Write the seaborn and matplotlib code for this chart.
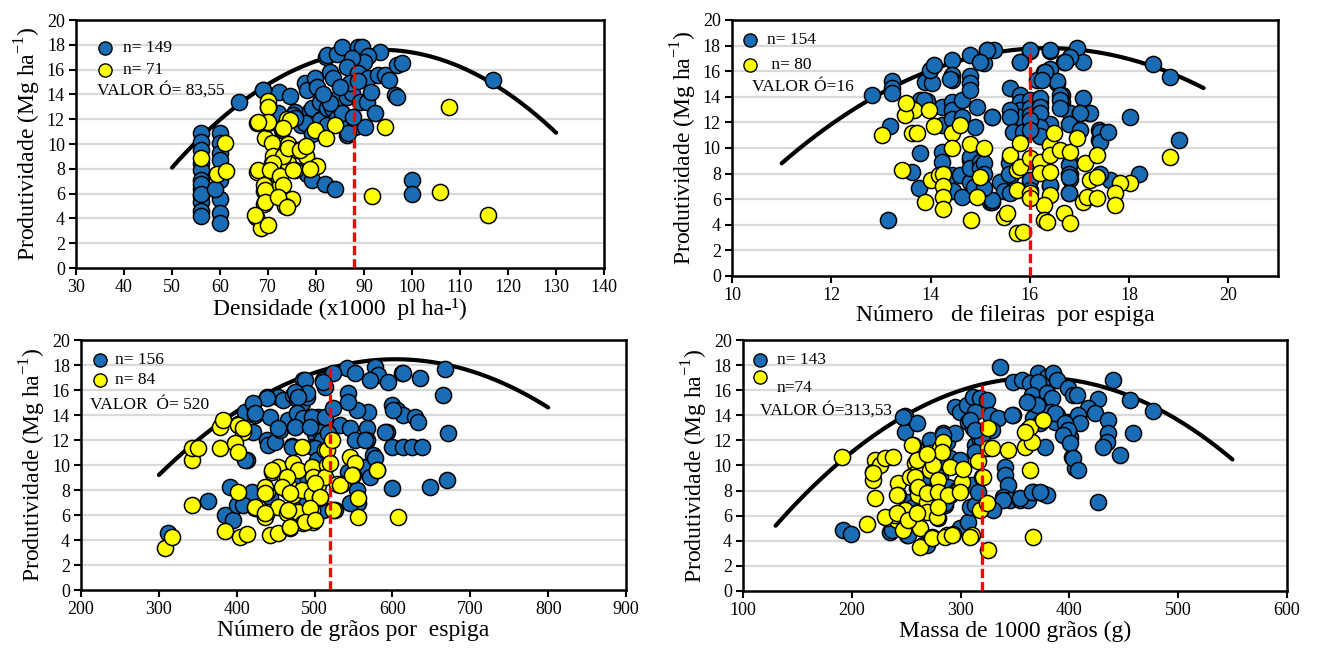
import numpy as np
import pandas as pd
import matplotlib
matplotlib.use("Agg")
import matplotlib.pyplot as plt
import seaborn as sns

# ---------------------------------------------------------------- data
# Densidade (x1000 pl/ha)
dens_blue_x = [56]*13 + [60, 60, 60, 60, 60, 60, 60, 60, 59,
    64, 67.6, 68.9, 72.2, 74.6, 72.1, 75.6, 75.2, 72.9, 76.9, 77.7, 78.1, 79.8, 80.1,
    78.75, 79.1, 80.8, 81.1, 80.8, 82.2, 83.3, 84.6, 86.4, 87.4, 89.2, 90.6, 92.3, 77.7,
    82.2, 84.3, 86.4, 86.4, 88.1, 90.2, 79.1, 86.7, 77.4, 78.1, 79.1, 81.9, 84.0, 99.9,
    99.9, 82.0, 82.2, 84.3, 85.4, 88.8, 89.5, 93.3, 90.9, 89.9, 87.4, 86.4, 82.9, 83.6,
    88.8, 90.9, 93.0, 94.4, 95.1, 96.8, 97.9, 96.5, 96.8, 87.1, 88.8, 116.8, 75.6, 69.0,
    85.5, 83.0, 85.0, 91.5, 87.8, 81.5]
dens_blue_y = [10.9, 10.2, 9.5, 8.5, 7.9, 7.1, 6.4, 5.8, 5.3, 4.6, 4.2, 6.8, 6.0,
    10.9, 10.1, 9.3, 8.7, 7.1, 5.6, 4.4, 3.6, 6.4,
    13.4, 11.7, 14.35, 14.2, 13.9, 12.5, 12.6, 12.3, 11.1, 11.5, 14.9, 14.35, 15.3, 14.6,
    12.7, 12.9, 13.4, 12.05, 11.9, 12.9, 12.9, 13.7, 13.8, 14.1, 13.4, 13.4, 12.5, 11.67,
    11.5, 12.07, 11.4, 10.7, 11.4, 11.4, 10.8, 10.86, 7.9, 7.6, 7.1, 6.8, 6.4, 7.1,
    6.0, 17.05, 17.2, 17.3, 17.8, 17.85, 17.8, 17.4, 17.1, 16.6, 16.9, 16.2, 15.8, 15.3,
    15.7, 15.3, 15.56, 15.6, 15.2, 16.4, 16.5, 13.95, 13.8, 14.9, 15.1, 15.16, 12.07, 14.35,
    12.5, 13.3, 14.6, 14.2, 12.2, 14.0]
dens_yell_x = [56, 59.3, 61.1, 61.3, 67.6, 67.5, 68.5, 69.9, 69.1, 69.2, 69.1, 69.4, 69.9,
    69.9, 69.9, 70.9, 70.9, 72.3, 72.5, 73.0, 74.0, 74.2, 74.2, 73.6, 74.9, 73.6, 75.6,
    76.0, 79.8, 79.8, 94.4, 91.6, 105.8, 107.8, 115.8, 84.0, 82.1, 77.4, 78.0, 74.6, 73.2,
    70.0, 70.0, 68.0, 71.1, 73.2, 71.1, 68.0, 70.4, 80.1, 78.8, 72.5, 75.3, 73.2, 69.4,
    69.4, 72.1, 74.2, 76.7, 78.0, 73.9, 67.3]
dens_yell_y = [8.9, 7.6, 10.05, 7.85, 7.76, 4.14, 3.2, 3.5, 5.2, 6.2, 6.7, 10.45, 11.66,
    13.0, 13.5, 10.05, 8.44, 7.23, 6.7, 11.3, 12.0, 10.0, 8.5, 5.6, 5.6, 5.0, 7.9,
    9.5, 11.1, 8.2, 11.35, 5.8, 6.15, 13.0, 4.27, 11.5, 10.5, 9.65, 9.0, 11.9, 11.3,
    13.0, 11.8, 11.8, 9.0, 9.0, 8.44, 7.9, 7.9, 8.2, 8.0, 7.4, 7.9, 6.7, 6.3,
    5.35, 5.75, 9.65, 9.5, 9.8, 4.95, 4.27]

# Numero de fileiras por espiga
fil_blue_x = [12.82, 13.15, 13.19, 13.22, 13.22, 13.22, 13.62, 13.76, 13.79, 13.79, 13.89,
    13.93, 14.03, 13.99, 14.06, 14.23, 14.23, 14.23, 14.23, 14.43, 14.43, 14.43, 14.43,
    14.43, 14.43, 14.43, 14.63, 14.63, 14.6, 14.46, 14.63, 14.8, 14.8, 14.8, 14.8, 14.9,
    14.8, 14.8, 15.0, 15.03, 14.93, 15.07, 15.13, 15.27, 15.2, 15.8, 16.0, 16.4, 16.95,
    16.68, 17.08, 16.8, 16.28, 16.4, 16.14, 16.55, 15.6, 15.8, 15.8, 15.8, 15.8, 16.0,
    16.0, 16.0, 16.0, 16.2, 16.2, 16.2, 16.2, 16.65, 16.65, 16.65, 16.8, 16.8, 17.08,
    17.2, 17.0, 17.4, 17.4, 16.8, 16.8, 16.8, 16.4, 16.78, 15.6, 15.67, 15.6, 15.54,
    15.4, 15.24, 14.87, 14.8, 14.8, 15.0, 15.0, 15.24, 14.4, 13.86,
    18.49, 18.82, 19.0, 18.02, 18.19, 17.62, 17.42, 17.42, 17.42, 17.58, 17.22, 17.02,
    16.7, 16.55, 16.61, 16.61, 16.61, 16.78, 16.78, 16.78, 16.78, 16.78, 17.02, 16.41,
    16.41, 16.21, 16.21, 16.21, 16.21, 16.21, 16.31, 16.24, 16.41, 16.01, 15.81, 15.14,
    15.0, 15.6, 15.6, 15.67, 15.24, 15.87, 16.0, 16.0, 16.0, 16.0, 16.0, 15.57, 15.57,
    15.47, 15.6, 15.24, 15.07, 15.07, 15.07]
fil_blue_y = [14.1, 4.37, 11.7, 15.2, 14.7, 14.3, 8.15, 6.85, 9.6, 13.75, 15.18,
    13.7, 15.05, 16.1, 16.5, 13.2, 11.8, 9.7, 8.9, 16.9, 15.7, 15.3, 13.6,
    13.0, 12.3, 7.9, 13.75, 12.4, 7.9, 6.65, 6.2, 17.27, 15.6, 15.05, 14.5, 11.66,
    9.06, 7.37, 7.0, 8.8, 13.2, 16.6, 17.66, 17.66, 5.8, 16.75, 17.6, 17.6, 17.8,
    16.75, 16.75, 17.1, 15.96, 16.2, 15.3, 15.05, 14.67, 14.1, 13.6, 13.0, 12.45, 13.75,
    13.1, 12.6, 11.9, 13.6, 12.7, 11.7, 10.9, 14.1, 13.6, 13.1, 12.7, 11.9, 13.9,
    12.7, 12.7, 11.4, 10.6, 8.8, 8.0, 7.6, 7.0, 6.45, 9.2, 8.54, 7.76, 6.7,
    7.37, 5.8, 6.98, 9.3, 8.4, 8.9, 8.4, 12.4, 15.4, 13.75,
    16.56, 15.52, 10.6, 12.45, 8.0, 7.5, 8.0, 11.27, 10.5, 11.27, 12.7, 12.7,
    16.75, 15.2, 14.1, 13.75, 13.1, 11.9, 8.7, 8.0, 7.76, 6.46, 11.4, 11.9,
    7.1, 13.9, 13.2, 12.7, 11.66, 10.9, 15.96, 15.3, 17.66, 17.66, 16.75, 17.66,
    16.75, 13.0, 12.45, 11.27, 12.45, 11.27, 12.2, 11.4, 9.0, 7.5, 6.7, 8.8, 8.0,
    6.6, 6.45, 5.94, 8.8, 8.0, 6.9]
fil_yell_x = [13.52, 13.66, 13.49, 13.02, 13.62, 13.72, 13.42, 13.96, 14.06, 14.43, 14.6,
    14.43, 14.8, 15.07, 14.01, 14.16, 14.26, 14.26, 14.26, 14.26, 13.89, 14.81, 14.93,
    15.0, 15.6, 15.81, 15.74, 15.81, 15.74, 15.47, 15.54, 15.74, 15.87, 16.0, 16.0, 16.21,
    16.21, 16.41, 16.41, 16.41, 16.41, 16.48, 16.28, 16.28, 16.35, 16.68, 16.81, 16.61,
    16.81, 16.95, 17.12, 17.22, 17.35, 17.08, 17.15, 17.35, 17.35, 18.82, 18.02, 17.82,
    17.72, 17.72, 13.5, 16.0]
fil_yell_y = [13.36, 12.97, 12.6, 11.0, 11.2, 11.2, 8.3, 13.0, 11.7, 11.15, 11.8,
    10.0, 10.3, 10.0, 7.5, 7.9, 8.0, 7.0, 6.2, 5.2, 5.8, 4.37, 6.2,
    7.76, 9.45, 10.36, 8.28, 8.54, 6.72, 4.63, 4.9, 3.33, 3.46, 6.46, 9.2, 8.93,
    8.02, 10.23, 9.45, 8.15, 6.33, 11.15, 5.55, 4.37, 4.24, 4.9, 4.1, 9.84,
    9.71, 10.76, 8.8, 7.5, 7.76, 5.8, 6.2, 6.07, 9.45, 9.32, 7.3, 7.3,
    6.46, 5.55, 13.5, 6.1]

# Numero de graos por espiga
gra_blue_x = [312.1, 363.5, 385, 395.6, 400, 391.4, 412.8, 402, 410.6, 421.3, 423.5, 421.3,
    419.2, 438.5, 442.7, 438.5, 440.6, 449, 453.4, 459.8, 455.6, 466.3, 474.9, 470.6,
    472.7, 477, 485.5, 483.5, 489.9, 487.7, 494.1, 496.3, 500.5, 498.4, 442.7, 464.2,
    479.1, 472.7, 500.5, 509.1, 511.2, 513.4, 504.8, 507, 509.1,
    541.2, 551.9, 577.6, 581.8, 571.2, 594.7, 611.9, 635.4, 667.5, 665.3, 671.8, 599,
    605.5, 614, 629, 633.3, 592.6, 599, 614, 624.7, 637.6, 599, 648.3, 669.7, 567, 567,
    569, 554, 543.3, 543.3, 524, 511.2, 487.7, 489.9, 474.9, 479.1, 438.5, 421.3, 423.5,
    477, 485.5, 496.3, 513.4, 524.1, 453.4, 474.9, 494.1, 532.7, 545.5, 551.9, 564.8,
    470.6, 500.5, 517.6, 410.6, 408.5, 502.7, 509.1, 543.3, 562.6, 575.4, 577.6, 571.2,
    579.8, 468.4, 479.1, 492, 496.3, 554, 556.2, 545.5, 479.1, 511.2, 526.2, 472.7,
    614, 590.4, 601]
gra_blue_y = [4.53, 7.12, 6.0, 5.6, 6.8, 8.27, 10.4, 13.3, 14.27, 14.9, 14.0, 12.67,
    7.87, 15.47, 13.87, 12.0, 11.6, 11.87, 15.47, 15.2, 12.8, 13.6, 13.07, 11.5,
    15.6, 15.3, 16.8, 14.93, 15.47, 13.47, 13.87, 13.07, 12.5, 11.47, 7.47, 8.0,
    8.0, 9.73, 9.07, 6.4, 16.8, 16.27, 13.87, 12.67, 12.0,
    17.73, 17.33, 17.87, 17.2, 16.8, 16.67, 17.33, 16.93, 17.65, 15.6, 12.53, 14.8,
    14.4, 14.0, 13.87, 13.47, 12.67, 11.47, 11.47, 11.47, 11.47, 8.13, 8.27, 8.8, 12.93, 12.0,
    14.27, 14.4, 15.73, 15.07, 17.33, 16.67, 16.8, 15.73, 15.87, 15.47, 15.33, 14.93, 14.13,
    14.13, 13.73, 13.87, 13.87, 14.53, 12.93, 13.07, 13.07, 13.2, 12.93, 12.0, 12.0,
    11.47, 11.33, 12.53, 10.4, 6.8, 10.4, 9.6, 9.47, 9.87, 10.8, 10.53, 9.07,
    9.6, 9.33, 8.8, 8.8, 8.13, 8.0, 6.93, 6.93, 7.07, 6.4, 6.4, 6.53,
    17.33, 12.67, 14.4]
gra_yell_x = [307.9, 316.5, 342.2, 342.2, 342.2, 350.7, 378.5, 382, 378.5, 385, 404.2, 412.8,
    402, 408.5, 397.8, 402, 402, 423.5, 436.3, 438.5, 438.5, 442.7, 453.4, 444.9, 453.4,
    453.4, 462, 468.4, 464.2, 468.4, 472.7, 479.1, 472.7, 483.5, 479.1, 485.5, 496.3,
    483.5, 496.3, 498.4, 496.3, 496.3, 504.8, 507, 513.4, 515.6, 513.4, 498.4, 408.5,
    515.6, 522, 519.8, 545.5, 551.9, 549.7, 579.8, 534.8, 528.4, 556.2, 556.2, 524,
    607.5, 464.2, 444.9, 436.3, 436.3, 457.7, 468.4, 500.5, 507, 423.5, 436.3, 466.2,
    494.1, 468.4, 487.7, 500.5, 532.7, 547.7]
gra_yell_y = [3.33, 4.27, 6.8, 10.4, 11.33, 11.33, 13.07, 13.6, 11.33, 4.72, 4.27, 4.45,
    13.2, 12.67, 11.73, 11.07, 7.87, 6.53, 5.87, 6.27, 7.87, 4.4, 4.53, 9.47, 9.87,
    6.67, 8.93, 8.13, 6.13, 4.93, 10.13, 9.6, 7.6, 8.0, 6.27, 5.33, 5.6,
    11.47, 9.87, 9.07, 7.6, 6.4, 8.4, 7.33, 11.2, 10.0, 9.07, 5.47, 12.93,
    11.2, 12.0, 10.13, 10.67, 10.13, 9.2, 9.6, 8.48, 8.5, 7.33, 5.87, 6.4,
    5.87, 9.07, 9.6, 8.27, 7.73, 8.27, 7.73, 8.53, 7.47, 6.67, 6.13, 6.4,
    6.53, 5.07, 5.47, 5.6, 8.4, 9.2]

# Massa de 1000 graos (g)
mas_blue_x = [192.2, 199, 235.1, 250.4, 248.9, 248.9, 259.7, 251.9, 265.7, 271.9, 284.1,
    287.2, 294.9, 294.9, 299.4, 305.6, 311.7, 307.1, 311.7, 313.2, 317.8, 290.3, 299.4,
    290.3, 285.7, 299.4, 307.1, 308.6, 313.2, 310.2, 316.3, 317.8, 265.7, 278, 276.5,
    336.2, 348.4, 356.2, 371.4, 379.1, 385.2, 388.3, 363.8, 371.4, 365.3, 379.1, 383.7,
    362.2, 371.4, 399, 403.6, 382.2, 388.3, 386.8, 366.8, 373, 397.5, 395.9, 400.6,
    402.1, 405.1, 377.6, 348.4, 340.8, 340.8, 343.8, 339.3, 345.4, 354.6, 362.2, 366.8,
    374.5, 379.1, 330, 322.4, 324, 327, 334.6, 328.6, 319.4, 313.2, 247.3, 271.9, 284.1,
    278, 281.1, 279.5, 288.7, 296.4, 285.7, 256.5, 236.7, 251.9, 279.5, 268.8, 313.2,
    308.6, 313.2, 440.4, 406.7, 426.6, 455.7, 476.6, 417.4, 423.5, 435.8, 435.8, 434.3,
    431.2, 458.7, 446.5, 408.2, 409.7, 386.8, 396, 399, 394.4, 400.5, 403.6, 408.2,
    426.6, 369.9, 360.7, 347, 339.3, 354.6, 365.3, 373, 330]
mas_blue_y = [4.86, 4.52, 4.73, 4.46, 13.97, 12.7, 13.36, 7.12, 3.67, 11.9, 12.57,
    11.9, 12.57, 14.68, 14.29, 14.82, 15.48, 13.49, 12.96, 11.63, 12.03, 10.57, 10.44,
    7.91, 6.85, 5.0, 5.52, 6.72, 6.85, 8.45, 7.91, 15.35, 8.71, 10.04, 6.32,
    17.87, 16.68, 16.81, 17.35, 17.08, 17.35, 16.81, 16.55, 16.68, 15.62, 15.75, 15.35,
    15.08, 14.82, 16.15, 15.62, 14.29, 14.02, 13.49, 13.76, 13.36, 13.49, 12.7, 12.3,
    10.7, 9.78, 11.5, 14.02, 9.9, 9.24, 8.45, 7.51, 7.25, 7.25, 7.25, 7.91,
    7.78, 7.65, 6.59, 6.72, 15.22, 14.02, 13.76, 12.83, 12.03, 11.1, 13.89, 12.03, 12.43,
    10.3, 9.1, 8.58, 8.31, 8.05, 6.99, 6.72, 4.86, 4.46, 5.79, 3.67, 14.29,
    13.63, 12.83, 16.81, 15.62, 15.3, 15.22, 14.34, 14.56, 14.16, 13.63, 12.57, 11.9,
    11.5, 12.57, 10.84, 14.02, 13.36, 14.16, 13.36, 12.83, 12.43, 11.77, 10.57, 9.64,
    7.12, 14.82, 15.08, 14.02, 7.25, 7.38, 7.91, 7.91, 6.45]
mas_yell_x = [190.7, 213.7, 221.3, 219.8, 219.8, 225.9, 221.3, 230.5, 232.1, 241.3, 239.7,
    242.7, 242.7, 247.3, 251.9, 248.9, 256.5, 256.5, 258.1, 259.7, 259.7, 261.2, 261.2,
    262.7, 262.7, 271.9, 271.9, 268.8, 268.8, 268.8, 274.9, 278, 273.4, 281.1, 284.1,
    279.5, 279.5, 287.2, 293.3, 290.3, 290.3, 299.4, 301, 302.5, 310.2, 316.3, 317.8,
    319.4, 325.5, 325.5, 325.5, 328.6, 324, 343.8, 359.2, 360.7, 363.8, 376, 363.8,
    366.8, 255, 238.1, 219.8, 259.7, 253.5, 258.1, 261.2, 268.8, 279.5, 288.7, 299.4,
    241.3, 230.5, 241.3, 251.9, 259.7, 273.4, 285.7, 291.8, 308.6, 279.5, 282.6, 268.8,
    320.9, 365.3, 359.2]
mas_yell_y = [10.7, 5.31, 10.44, 9.5, 8.84, 10.04, 7.38, 10.57, 5.84, 5.66, 6.06,
    8.58, 7.65, 4.86, 5.79, 6.45, 11.63, 9.24, 10.17, 9.5, 8.18, 7.65, 6.32,
    5.0, 3.53, 10.97, 9.64, 7.91, 7.12, 6.32, 10.04, 5.92, 4.33, 11.37, 11.9,
    8.84, 7.78, 4.46, 4.52, 9.9, 7.65, 8.18, 8.71, 9.72, 4.46, 10.36, 6.45,
    9.1, 3.27, 12.96, 11.37, 11.37, 6.99, 11.24, 11.5, 12.83, 13.09, 13.63, 9.64,
    4.33, 11.63, 10.7, 9.38, 10.44, 9.1, 9.1, 8.31, 7.78, 7.91, 7.65, 7.91,
    7.65, 5.92, 6.19, 5.66, 6.19, 4.2, 4.33, 4.46, 4.33, 6.7, 11.1, 10.9,
    9.1, 11.9, 12.7]

# quadratic trend lines (vertex form): peak x, peak y, curvature, x span
trend_peak_x = [93.5, 16.35, 603.8, 370.9]
trend_peak_y = [17.6, 17.8, 18.46, 17.0]
trend_curv = [0.00502, 0.3144, 1.003e-4, 2.033e-4]
trend_x0 = [50, 11, 300, 130]
trend_x1 = [130, 19.5, 800, 550]

# optimum markers
opt_x = [88, 16, 520, 320]
opt_top = [16.3, 17.8, 17.8, 16.4]

n_blue = ["n= 149", "n= 154", "n= 156", "n= 143"]
n_yell = ["n= 71", " n= 80", "n= 84", "n=74"]
opt_text = ["VALOR Ó= 83,55", "VALOR Ó=16", "VALOR  Ó= 520", "VALOR Ó=313,53"]
x_labels = ["Densidade (x1000  pl ha-¹)", "Número   de fileiras  por espiga",
            "Número de grãos por  espiga", "Massa de 1000 grãos (g)"]
x_ticks = [list(range(30, 141, 10)), list(range(10, 21, 2)),
           list(range(200, 901, 100)), list(range(100, 601, 100))]
x_limits = [(30, 140), (10, 21), (200, 900), (100, 600)]
y_ticks = list(range(0, 21, 2))

# ---------------------------------------------------------------- style
sns.set_theme(style="white")
plt.rcParams["font.family"] = ["Liberation Serif", "DejaVu Serif"]
plt.rcParams["mathtext.fontset"] = "custom"
plt.rcParams["mathtext.rm"] = "Liberation Serif"
plt.rcParams["text.color"] = "black"
plt.rcParams["axes.labelcolor"] = "black"
plt.rcParams["xtick.color"] = "black"
plt.rcParams["ytick.color"] = "black"

BLUE = "#1a6db5"
YELLOW = "#ffff00"

blue_sets = [(dens_blue_x, dens_blue_y), (fil_blue_x, fil_blue_y),
             (gra_blue_x, gra_blue_y), (mas_blue_x, mas_blue_y)]
yell_sets = [(dens_yell_x, dens_yell_y), (fil_yell_x, fil_yell_y),
             (gra_yell_x, gra_yell_y), (mas_yell_x, mas_yell_y)]

rects = [(0.0577, 0.5864, 0.4006, 0.3827), (0.5554, 0.5741, 0.4143, 0.3951),
         (0.0615, 0.0895, 0.4135, 0.3858), (0.5637, 0.0880, 0.4127, 0.3873)]
leg_pos = [  # marker x, blue y, yellow y, text x, yellow text y, valor x, valor y
    (0.055, 0.886, 0.798, 0.089, 0.798, 0.039, 0.718),
    (0.033, 0.922, 0.824, 0.064, 0.824, 0.036, 0.737),
    (0.035, 0.920, 0.840, 0.062, 0.840, 0.017, 0.740),
    (0.031, 0.920, 0.854, 0.062, 0.808, 0.031, 0.721),
]

fig = plt.figure(figsize=(13.18, 6.48), dpi=100)

for i in range(4):
    ax = fig.add_axes(rects[i])
    ax.set_xlim(*x_limits[i])
    ax.set_ylim(0, 20)
    ax.set_xticks(x_ticks[i])
    ax.set_yticks(y_ticks)
    for yv in y_ticks[1:-1]:
        ax.axhline(yv, color="#d9d9d9", lw=1.6, zorder=0)

    # trend line
    xs = np.linspace(trend_x0[i], trend_x1[i], 200)
    ys = trend_peak_y[i] - trend_curv[i] * (xs - trend_peak_x[i]) ** 2
    sns.lineplot(x=xs, y=ys, ax=ax, color="black", lw=3, sort=False,
                 estimator=None, zorder=2)

    bx, by = blue_sets[i]
    yx, yy = yell_sets[i]
    sns.scatterplot(data=pd.DataFrame({"x": bx, "y": by}), x="x", y="y", ax=ax,
                    color=BLUE, edgecolor="black", linewidth=1.1, s=135, zorder=3)
    sns.scatterplot(data=pd.DataFrame({"x": yx, "y": yy}), x="x", y="y", ax=ax,
                    color=YELLOW, edgecolor="black", linewidth=1.1, s=135, zorder=4)

    ax.vlines(opt_x[i], 0, opt_top[i], colors="red", lw=2.4,
              linestyles=(0, (2.8, 1.2)), zorder=5)

    # legend block
    mx, by_, yy_, tx, tyy, vx, vy = leg_pos[i]
    ax.scatter([mx], [by_], transform=ax.transAxes, s=90, color=BLUE,
               edgecolor="black", linewidth=1.0, zorder=6, clip_on=False)
    ax.scatter([mx], [yy_], transform=ax.transAxes, s=90, color=YELLOW,
               edgecolor="black", linewidth=1.0, zorder=6, clip_on=False)
    ax.text(tx, by_, n_blue[i], transform=ax.transAxes, fontsize=12.5,
            va="center", ha="left", zorder=6)
    ax.text(tx, tyy, n_yell[i], transform=ax.transAxes, fontsize=12.5,
            va="center", ha="left", zorder=6)
    ax.text(vx, vy, opt_text[i], transform=ax.transAxes, fontsize=12.5,
            va="center", ha="left", zorder=6)

    ax.set_xlabel(x_labels[i], fontsize=17, labelpad=1)
    ax.set_ylabel(r"Produtividade (Mg ha$^{\mathregular{-1}}$)", fontsize=17, labelpad=3)
    ax.tick_params(axis="both", which="major", direction="out", length=5, width=1.5,
                   labelsize=13, colors="black", bottom=True, left=True, pad=3)
    for side in ["left", "right", "top", "bottom"]:
        ax.spines[side].set_color("black")
        ax.spines[side].set_linewidth(1.8)
        ax.spines[side].set_visible(True)

fig.savefig("out.png", dpi=100, facecolor="white")
